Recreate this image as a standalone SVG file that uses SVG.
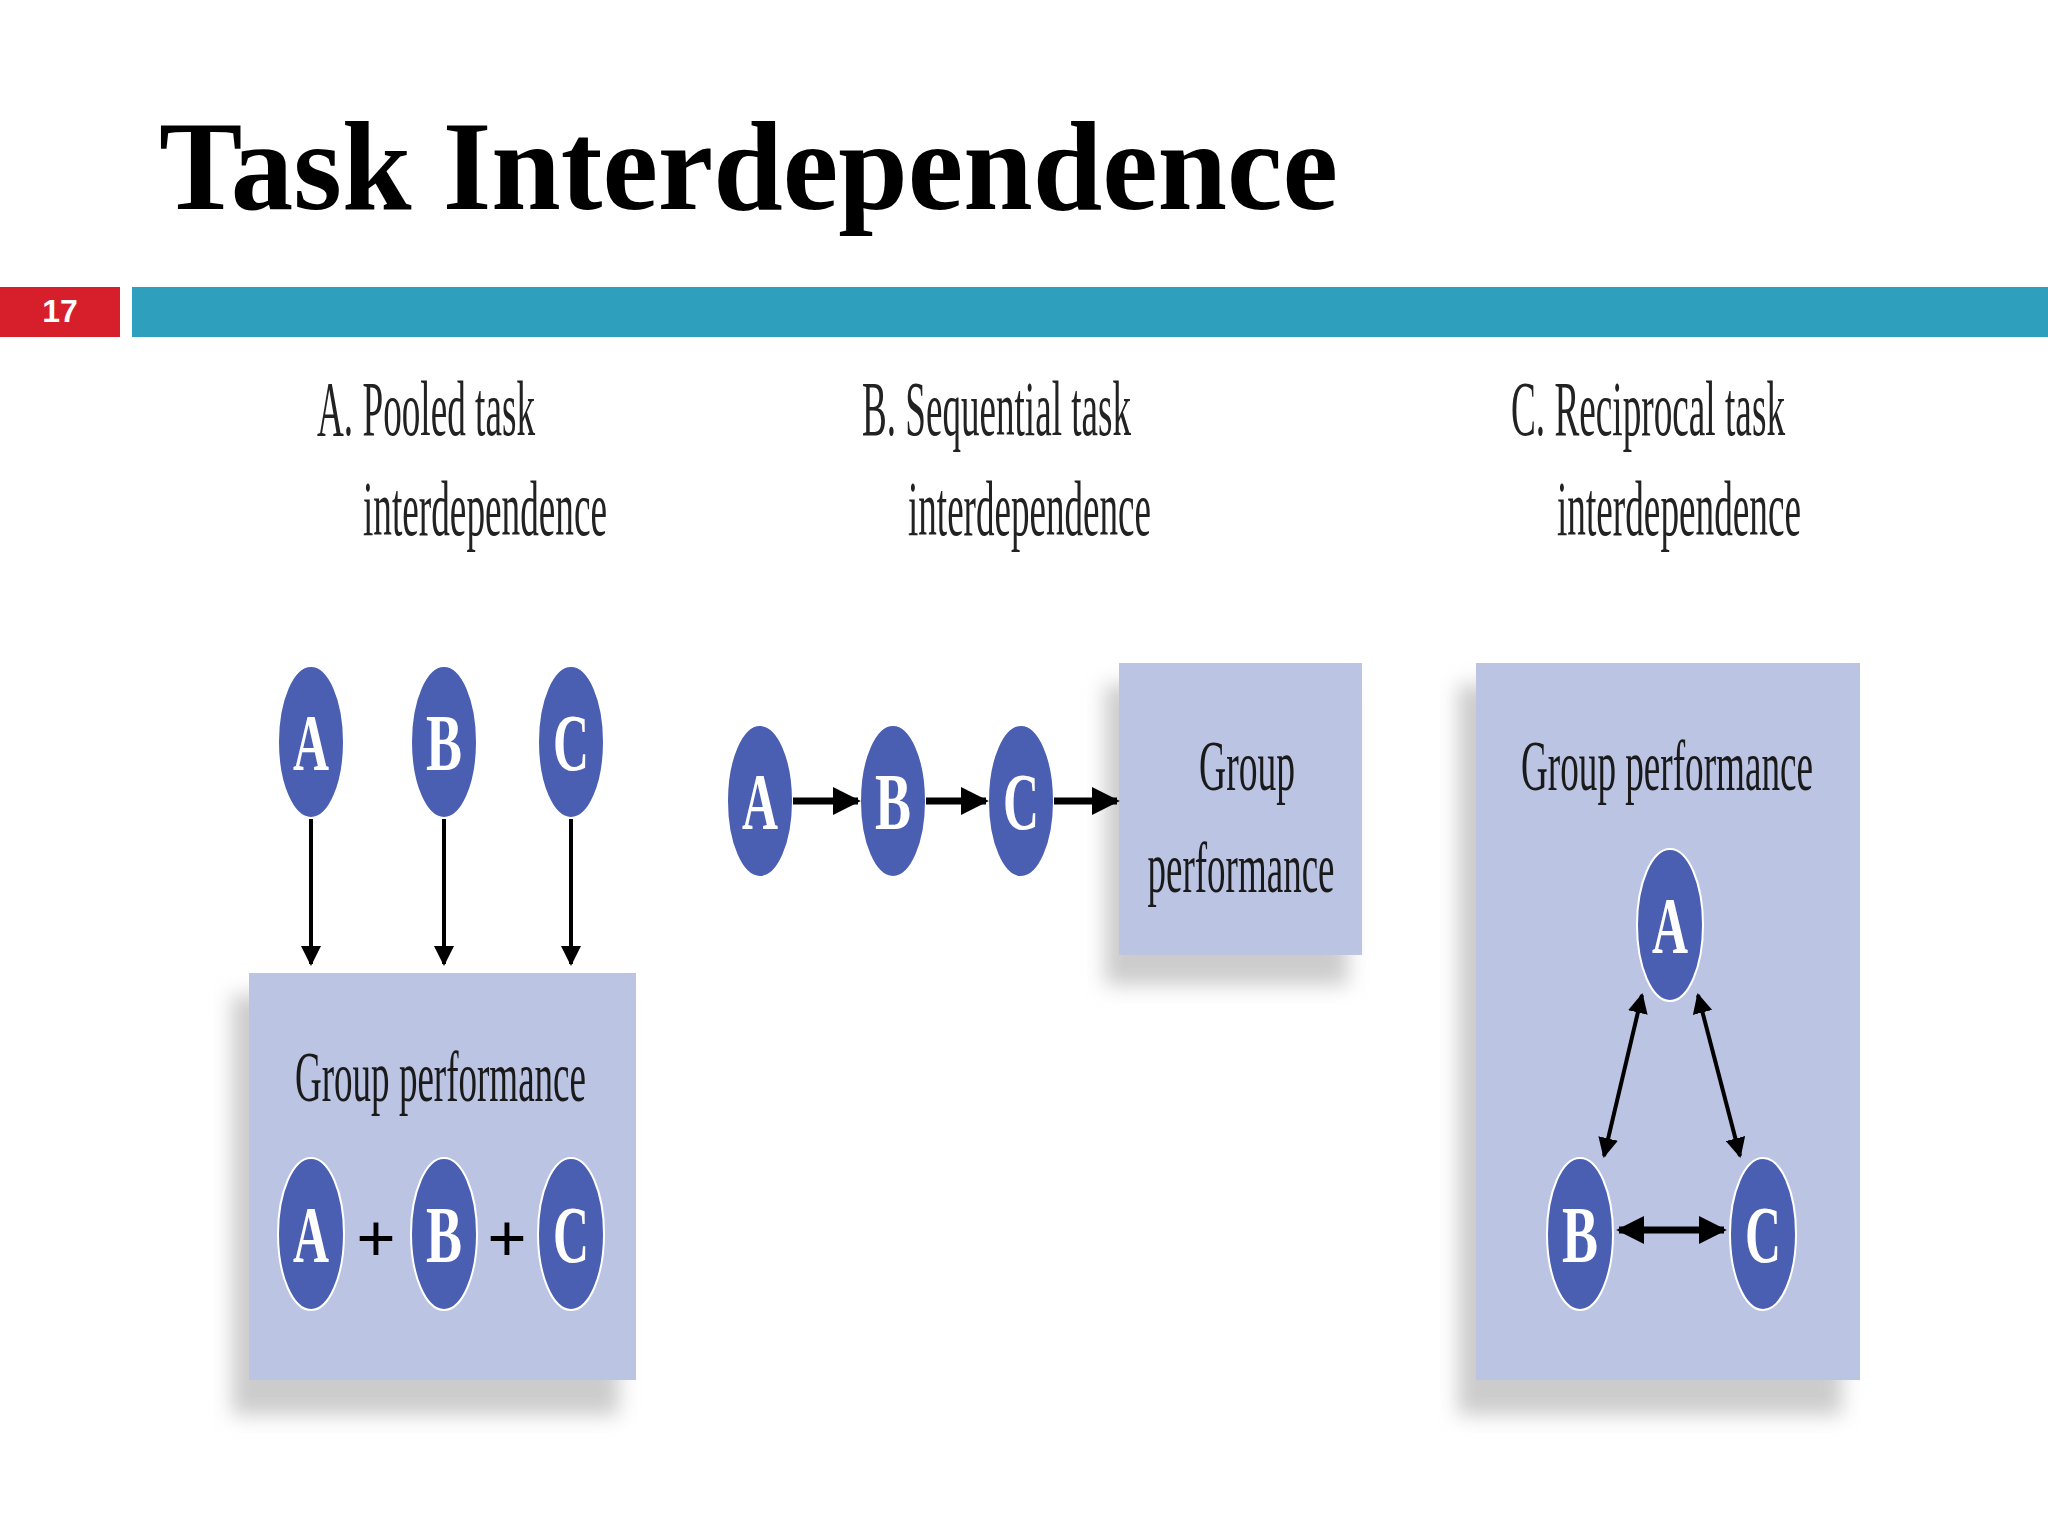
<svg xmlns="http://www.w3.org/2000/svg" width="2048" height="1536" viewBox="0 0 2048 1536">
<style>
.hdr{font-family:"Liberation Serif",serif;font-size:78px;fill:#222}
.box{fill:#BCC4E3}
.node{fill:#4A5EB2;stroke:#fff;stroke-width:2}
.lt{font-family:"Liberation Serif",serif;font-size:80px;fill:#fff;text-anchor:middle;font-weight:bold}
.gp{font-family:"Liberation Serif",serif;font-size:72px;fill:#1a1a1a}
.ar{stroke:#000;stroke-width:4;fill:none}
.ar2{stroke:#000;stroke-width:7;fill:none}
</style>
<defs>
<marker id="ah" viewBox="0 0 10 10" refX="9" refY="5" markerWidth="5" markerHeight="5" orient="auto-start-reverse"><path d="M0,0L10,5L0,10z" fill="#000"/></marker>
<marker id="ah2" viewBox="0 0 10 10" refX="9" refY="5" markerWidth="4" markerHeight="4" orient="auto-start-reverse"><path d="M0,0L10,5L0,10z" fill="#000"/></marker>
<filter id="sh" x="-20%" y="-20%" width="140%" height="140%"><feGaussianBlur stdDeviation="10"/></filter>
</defs>
<rect width="2048" height="1536" fill="#fff"/>
<text x="159" y="209" font-family="Liberation Serif,serif" font-weight="bold" font-size="128" textLength="1179" lengthAdjust="spacingAndGlyphs">Task Interdependence</text>
<rect x="0" y="287" width="120" height="50" fill="#D71E2B"/>
<text x="60" y="322" font-family="Liberation Sans,sans-serif" font-weight="bold" font-size="32" fill="#fff" text-anchor="middle">17</text>
<rect x="132" y="287" width="1916" height="50" fill="#2EA0BD"/>

<g id="headers">
<text class="hdr" x="317" y="435" textLength="218" lengthAdjust="spacingAndGlyphs">A. Pooled task</text>
<text class="hdr" x="363" y="535" textLength="244" lengthAdjust="spacingAndGlyphs">interdependence</text>
<text class="hdr" x="862" y="435" textLength="269" lengthAdjust="spacingAndGlyphs">B. Sequential task</text>
<text class="hdr" x="908" y="535" textLength="243" lengthAdjust="spacingAndGlyphs">interdependence</text>
<text class="hdr" x="1511" y="435" textLength="274" lengthAdjust="spacingAndGlyphs">C. Reciprocal task</text>
<text class="hdr" x="1557" y="535" textLength="244" lengthAdjust="spacingAndGlyphs">interdependence</text>
</g>

<g id="boxA">
<rect x="232" y="995" width="387" height="420" fill="#ccc" filter="url(#sh)"/>
<rect class="box" x="249" y="973" width="387" height="407"/>
<text class="gp" x="295" y="1101" textLength="291" lengthAdjust="spacingAndGlyphs">Group performance</text>
<ellipse class="node" cx="311" cy="1234" rx="33" ry="76"/><text class="lt" x="311" y="1262" textLength="36" lengthAdjust="spacingAndGlyphs">A</text>
<ellipse class="node" cx="444" cy="1234" rx="33" ry="76"/><text class="lt" x="444" y="1262" textLength="36" lengthAdjust="spacingAndGlyphs">B</text>
<ellipse class="node" cx="571" cy="1234" rx="33" ry="76"/><text class="lt" x="571" y="1262" textLength="36" lengthAdjust="spacingAndGlyphs">C</text>
<text x="376" y="1262" font-family="Liberation Serif,serif" font-size="70" font-weight="bold" text-anchor="middle">+</text>
<text x="507" y="1262" font-family="Liberation Serif,serif" font-size="70" font-weight="bold" text-anchor="middle">+</text>
</g>
<g id="nodesA">
<ellipse class="node" cx="311" cy="742" rx="33" ry="76"/><text class="lt" x="311" y="770" textLength="36" lengthAdjust="spacingAndGlyphs">A</text>
<ellipse class="node" cx="444" cy="742" rx="33" ry="76"/><text class="lt" x="444" y="770" textLength="36" lengthAdjust="spacingAndGlyphs">B</text>
<ellipse class="node" cx="571" cy="742" rx="33" ry="76"/><text class="lt" x="571" y="770" textLength="36" lengthAdjust="spacingAndGlyphs">C</text>
</g>

<g id="boxB">
<rect x="1105" y="685" width="243" height="300" fill="#ccc" filter="url(#sh)"/>
<rect class="box" x="1119" y="663" width="243" height="292"/>
<text class="gp" x="1247" y="790" text-anchor="middle" textLength="96" lengthAdjust="spacingAndGlyphs">Group</text>
<text class="gp" x="1241" y="892" text-anchor="middle" textLength="187" lengthAdjust="spacingAndGlyphs">performance</text>
</g>
<g id="nodesB">
<ellipse class="node" cx="760" cy="801" rx="33" ry="76"/><text class="lt" x="760" y="829" textLength="36" lengthAdjust="spacingAndGlyphs">A</text>
<ellipse class="node" cx="893" cy="801" rx="33" ry="76"/><text class="lt" x="893" y="829" textLength="36" lengthAdjust="spacingAndGlyphs">B</text>
<ellipse class="node" cx="1021" cy="801" rx="33" ry="76"/><text class="lt" x="1021" y="829" textLength="36" lengthAdjust="spacingAndGlyphs">C</text>
</g>

<g id="boxC">
<rect x="1458" y="685" width="384" height="730" fill="#ccc" filter="url(#sh)"/>
<rect class="box" x="1476" y="663" width="384" height="717"/>
<text class="gp" x="1521" y="790" textLength="292" lengthAdjust="spacingAndGlyphs">Group performance</text>
<ellipse class="node" cx="1670" cy="925" rx="33" ry="76"/><text class="lt" x="1670" y="953" textLength="36" lengthAdjust="spacingAndGlyphs">A</text>
<ellipse class="node" cx="1580" cy="1234" rx="33" ry="76"/><text class="lt" x="1580" y="1262" textLength="36" lengthAdjust="spacingAndGlyphs">B</text>
<ellipse class="node" cx="1763" cy="1234" rx="33" ry="76"/><text class="lt" x="1763" y="1262" textLength="36" lengthAdjust="spacingAndGlyphs">C</text>
</g>

<g id="connectors">
<line class="ar" x1="311" y1="819" x2="311" y2="964" marker-end="url(#ah)"/>
<line class="ar" x1="444" y1="819" x2="444" y2="964" marker-end="url(#ah)"/>
<line class="ar" x1="571" y1="819" x2="571" y2="964" marker-end="url(#ah)"/>
<line class="ar2" x1="793" y1="801" x2="858" y2="801" marker-end="url(#ah2)"/>
<line class="ar2" x1="926" y1="801" x2="986" y2="801" marker-end="url(#ah2)"/>
<line class="ar2" x1="1054" y1="801" x2="1117" y2="801" marker-end="url(#ah2)"/>
<line class="ar" x1="1642" y1="995" x2="1604" y2="1156" stroke-width="5" marker-start="url(#ah)" marker-end="url(#ah)"/>
<line class="ar" x1="1698" y1="995" x2="1740" y2="1156" stroke-width="5" marker-start="url(#ah)" marker-end="url(#ah)"/>
<line class="ar2" x1="1619" y1="1230" x2="1724" y2="1230" marker-start="url(#ah2)" marker-end="url(#ah2)"/>
</g>
</svg>
